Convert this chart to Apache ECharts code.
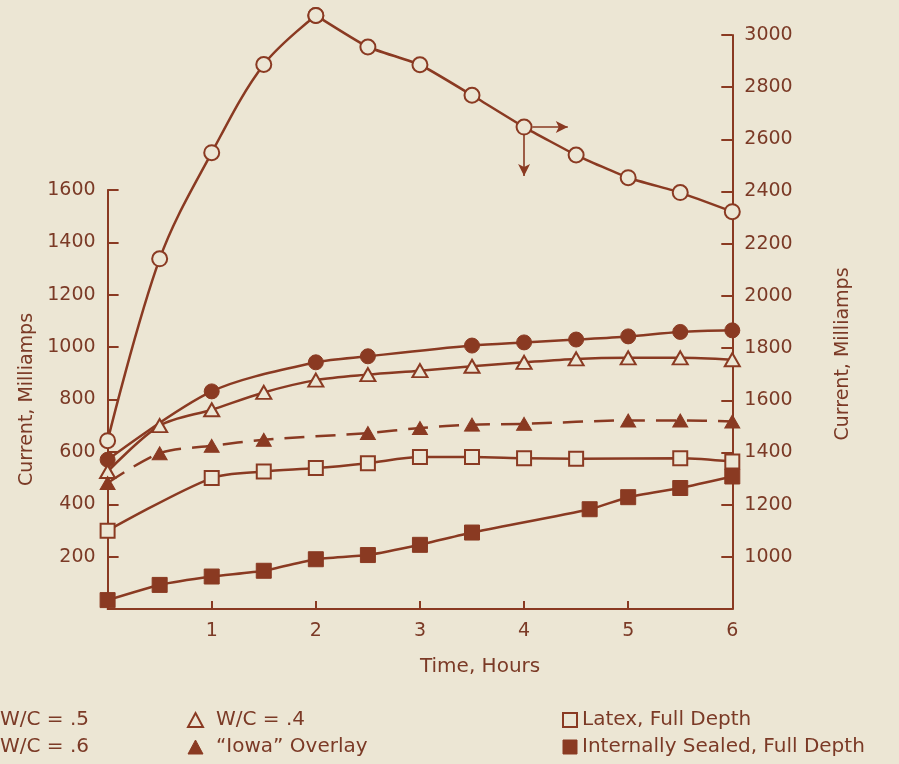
<!DOCTYPE html>
<html>
<head>
<meta charset="utf-8">
<script src="https://cdn.jsdelivr.net/npm/echarts@6/dist/echarts.min.js"></script>
<style>
html,body{margin:0;padding:0;background:#ece6d4;}
#chart{width:899px;height:764px;}
</style>
</head>
<body>
<div id="chart"></div>
<script>
// ---- data (hours, milliamps) ----
const hoursWC5 = [0, 0.5, 1, 1.5, 2, 2.5, 3, 3.5, 4, 4.5, 5, 5.5, 6];
const currentWC5 = [1445, 2142, 2549, 2887, 3075, 2954, 2886, 2769, 2647, 2540, 2453, 2396, 2323]; // right axis

const hoursWC6 = [0, 1, 2, 2.5, 3.5, 4, 4.5, 5, 5.5, 6];
const currentWC6 = [570, 831, 942, 965, 1006, 1018, 1029, 1041, 1058, 1064];

const hoursWC4 = [0, 0.5, 1, 1.5, 2, 2.5, 3, 3.5, 4, 4.5, 5, 5.5, 6];
const currentWC4 = [525, 700, 761, 827, 874, 895, 910, 927, 942, 955, 959, 959, 952];

const hoursIowa = [0, 0.5, 1, 1.5, 2.5, 3, 3.5, 4, 5, 5.5, 6];
const currentIowa = [481, 595, 623, 646, 672, 691, 704, 707, 720, 720, 716];

const hoursLatex = [0, 1, 1.5, 2, 2.5, 3, 3.5, 4, 4.5, 5.5, 6];
const currentLatex = [299, 500, 525, 538, 557, 580, 580, 576, 574, 576, 563];

const hoursSealed = [0, 0.5, 1, 1.5, 2, 2.5, 3, 3.5, 4.63, 5, 5.5, 6];
const currentSealed = [34, 92, 124, 146, 190, 206, 245, 292, 381, 427, 462, 506];

const seriesNames = ['W/C = .5', 'W/C = .6', 'W/C = .4', '\u201CIowa\u201D Overlay', 'Latex, Full Depth', 'Internally Sealed, Full Depth'];

// arrow annotation (data units of right axis) pointing from the W/C = .5 curve
const arrowRight = [[4.08, 2647], [4.42, 2647]];
const arrowDown = [[4, 2618], [4, 2460]];

// ---- style ----
const BG = '#ece6d4';
const INK = '#8a3a22';
const TXT = '#7b3a26';
const FONT = 'DejaVu Sans';

function pairs(xs, ys) { return xs.map((x, i) => [x, ys[i]]); }

const openItem = { color: BG, borderColor: INK, borderWidth: 2 };
const fillItem = { color: INK, borderColor: INK, borderWidth: 1 };
const lineBase = { color: INK, width: 2.5 };

const chart = echarts.init(document.getElementById('chart'), null, { renderer: 'canvas' });

const wc5 = pairs(hoursWC5, currentWC5);
const peak = hoursWC5.indexOf(2);

const plain = v => String(v);
const axisText = { color: TXT, fontFamily: FONT, fontSize: 19, formatter: plain };
const legendText = { color: TXT, fontFamily: FONT, fontSize: 20 };

chart.setOption({
  backgroundColor: BG,
  animation: false,
  grid: [
    { left: 107.6, right: 166.7, top: 190, bottom: 155 },
    { left: 107.6, right: 166.7, top: 35, bottom: 155 }
  ],
  xAxis: [
    {
      type: 'value', gridIndex: 0, min: 0, max: 6, interval: 1,
      name: 'Time, Hours', nameLocation: 'middle', nameGap: 48,
      nameTextStyle: { color: TXT, fontFamily: FONT, fontSize: 20, align: 'left' },
      axisLine: { show: true, onZero: false, lineStyle: { color: INK, width: 2 } },
      axisTick: { show: true, inside: true, length: 8, lineStyle: { color: INK, width: 2 } },
      axisLabel: Object.assign({ showMinLabel: false, margin: 13 }, axisText),
      splitLine: { show: false }
    },
    {
      type: 'value', gridIndex: 1, min: 0, max: 6, interval: 1, show: false,
      axisLine: { onZero: false },
      splitLine: { show: false }
    }
  ],
  yAxis: [
    {
      type: 'value', gridIndex: 0, position: 'left', min: 0, max: 1600, interval: 200,
      name: 'Current, Milliamps', nameLocation: 'middle', nameGap: 70,
      nameTextStyle: { color: TXT, fontFamily: FONT, fontSize: 19 },
      axisLine: { show: true, onZero: false, lineStyle: { color: INK, width: 2 } },
      axisTick: { show: true, inside: true, length: 11, lineStyle: { color: INK, width: 2 } },
      axisLabel: Object.assign({ showMinLabel: false, margin: 12 }, axisText),
      splitLine: { show: false }
    },
    {
      type: 'value', gridIndex: 1, position: 'right', min: 800, max: 3000, interval: 200,
      name: 'Current, Milliamps', nameLocation: 'middle', nameGap: 101, nameRotate: 90,
      nameTextStyle: { color: TXT, fontFamily: FONT, fontSize: 19, padding: [0, 64, 0, 0] },
      axisLine: { show: true, onZero: false, lineStyle: { color: INK, width: 2 } },
      axisTick: { show: true, inside: true, length: 11, lineStyle: { color: INK, width: 2 } },
      axisLabel: Object.assign({ showMinLabel: false, margin: 12 }, axisText),
      splitLine: { show: false }
    }
  ],
  legend: [
    {
      left: -20, top: 710, orient: 'vertical', padding: 0, itemGap: 7, itemWidth: 14, itemHeight: 14,
      textStyle: legendText, selectedMode: false,
      data: [
        { name: seriesNames[0], icon: 'circle', itemStyle: openItem },
        { name: seriesNames[1], icon: 'circle', itemStyle: fillItem }
      ]
    },
    {
      left: 187, top: 710, orient: 'vertical', padding: 0, itemGap: 7, itemWidth: 15, itemHeight: 14,
      textStyle: Object.assign({ padding: [0, 0, 0, 8] }, legendText), selectedMode: false,
      data: [
        { name: seriesNames[2], icon: 'triangle', itemStyle: openItem },
        { name: seriesNames[3], icon: 'triangle', itemStyle: fillItem }
      ]
    },
    {
      left: 562, top: 710, orient: 'vertical', padding: 0, itemGap: 7, itemWidth: 14, itemHeight: 14,
      textStyle: legendText, selectedMode: false,
      data: [
        { name: seriesNames[4], icon: 'rect', itemStyle: openItem },
        { name: seriesNames[5], icon: 'rect', itemStyle: fillItem }
      ]
    }
  ],
  series: [
    {
      name: seriesNames[0], type: 'line', xAxisIndex: 1, yAxisIndex: 1,
      data: wc5.slice(0, peak + 1), smooth: 0.35, clip: false,
      symbol: 'circle', symbolSize: 15, itemStyle: openItem, lineStyle: lineBase, z: 3
    },
    {
      name: seriesNames[0], type: 'line', xAxisIndex: 1, yAxisIndex: 1,
      data: wc5.slice(peak), smooth: 0.15, clip: false,
      symbol: 'circle', symbolSize: 15, itemStyle: openItem, lineStyle: lineBase, z: 3,
      markLine: {
        silent: true, symbol: ['none', 'arrow'], symbolSize: [9, 12],
        label: { show: false },
        lineStyle: { color: INK, width: 1.6, type: 'solid' },
        data: [
          [{ coord: arrowRight[0] }, { coord: arrowRight[1] }],
          [{ coord: arrowDown[0] }, { coord: arrowDown[1] }]
        ]
      }
    },
    {
      name: seriesNames[1], type: 'line', data: pairs(hoursWC6, currentWC6), smooth: 0.3,
      symbol: 'circle', symbolSize: 15, itemStyle: fillItem, lineStyle: lineBase, clip: false
    },
    {
      name: seriesNames[2], type: 'line', data: pairs(hoursWC4, currentWC4), smooth: 0.3,
      symbol: 'triangle', symbolSize: [15, 13], itemStyle: openItem, lineStyle: lineBase, clip: false
    },
    {
      name: seriesNames[3], type: 'line', data: pairs(hoursIowa, currentIowa), smooth: 0.3,
      symbol: 'triangle', symbolSize: [15, 13], itemStyle: fillItem,
      lineStyle: { color: INK, width: 2.5, type: [20, 11] }, clip: false
    },
    {
      name: seriesNames[4], type: 'line', data: pairs(hoursLatex, currentLatex), smooth: 0.3,
      symbol: 'rect', symbolSize: 14, itemStyle: openItem, lineStyle: lineBase, clip: false
    },
    {
      name: seriesNames[5], type: 'line', data: pairs(hoursSealed, currentSealed), smooth: 0.2,
      symbol: 'rect', symbolSize: 15, itemStyle: fillItem, lineStyle: lineBase, clip: false
    }
  ]
});
</script>
</body>
</html>
